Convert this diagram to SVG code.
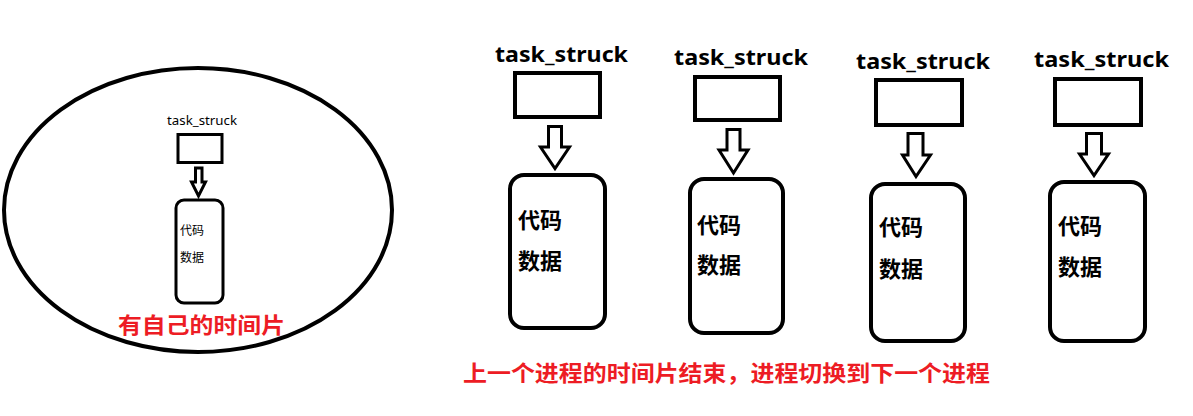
<svg xmlns="http://www.w3.org/2000/svg" width="1193" height="416" viewBox="0 0 1193 416">
<style>
.bg{fill:#fff}
.ln{fill:#fff;stroke:#000;stroke-width:4}
.ln3{fill:#fff;stroke:#000;stroke-width:3}
.arr{fill:#fff;stroke:#000;stroke-width:3;stroke-linejoin:miter}
.tsb{font-family:"Noto Sans","Liberation Sans",sans-serif;font-weight:bold;font-size:22px;fill:#000}
.tss{font-family:"Noto Sans","Liberation Sans",sans-serif;font-size:13px;fill:#000}
.cn{font-family:"Noto Sans CJK SC",sans-serif;font-weight:bold;font-size:22px;fill:#000}
.cns{font-family:"Noto Sans CJK SC",sans-serif;font-size:12px;fill:#000}
.red{font-family:"Noto Sans CJK SC",sans-serif;font-weight:bold;font-size:22px;fill:#ED1C24}
</style>
<rect class="bg" x="0" y="0" width="1193" height="416"/>

<g id="process-left">
  <ellipse cx="198" cy="210" rx="194" ry="142" fill="none" stroke="#000" stroke-width="4"/>
  <text class="tss" x="167" y="125" textLength="70" lengthAdjust="spacingAndGlyphs">task_struck</text>
  <rect class="ln3" x="178" y="134.5" width="44" height="28"/>
  <rect class="ln3" x="176" y="200" width="47" height="103" rx="8"/>
  <text class="cns" x="180" y="235">代码</text>
  <text class="cns" x="180" y="262">数据</text>
  <text class="red" x="118" y="333" textLength="167" lengthAdjust="spacingAndGlyphs">有自己的时间片</text>
</g>

<g id="process-1">
  <text class="tsb" x="495" y="62" textLength="133" lengthAdjust="spacingAndGlyphs">task_struck</text>
  <rect class="ln" x="515" y="73" width="85" height="44"/>
  <rect class="ln" x="510" y="175" width="95" height="153" rx="14"/>
  <text class="cn" x="518" y="228">代码</text>
  <text class="cn" x="518" y="269">数据</text>
</g>

<g id="process-2">
  <text class="tsb" x="674" y="65" textLength="134" lengthAdjust="spacingAndGlyphs">task_struck</text>
  <rect class="ln" x="695" y="77" width="85" height="43"/>
  <rect class="ln" x="690" y="179" width="93" height="154" rx="14"/>
  <text class="cn" x="697" y="233">代码</text>
  <text class="cn" x="697" y="273">数据</text>
</g>

<g id="process-3">
  <text class="tsb" x="856" y="69" textLength="134" lengthAdjust="spacingAndGlyphs">task_struck</text>
  <rect class="ln" x="876" y="80" width="86" height="45"/>
  <rect class="ln" x="871" y="184" width="94" height="157" rx="14"/>
  <text class="cn" x="879" y="235">代码</text>
  <text class="cn" x="879" y="277">数据</text>
</g>

<g id="process-4">
  <text class="tsb" x="1034" y="67" textLength="135" lengthAdjust="spacingAndGlyphs">task_struck</text>
  <rect class="ln" x="1055" y="79" width="86" height="46"/>
  <rect class="ln" x="1050" y="182" width="95" height="159" rx="14"/>
  <text class="cn" x="1058" y="234">代码</text>
  <text class="cn" x="1058" y="275">数据</text>
</g>

<g id="caption">
  <text class="red" x="463" y="381" textLength="527" lengthAdjust="spacingAndGlyphs">上一个进程的时间片结束，进程切换到下一个进程</text>
</g>

<g id="connectors">
  <path class="arr" stroke-width="2" d="M195.5,168 H202 V182 H205.5 L198.5,196 L191.5,182 H195.5 Z"/>
  <path class="arr" d="M548.5,126.5 H561.5 V147 H569.5 L555,168.5 L540.5,147 H548.5 Z"/>
  <path class="arr" d="M727,129.5 H740 V150 H748 L733.5,173 L719,150 H727 Z"/>
  <path class="arr" d="M908,133.5 H923 V155 H930.5 L916,176.5 L902.5,155 H908 Z"/>
  <path class="arr" d="M1086.5,133.5 H1101.5 V154 H1108.5 L1094,175.5 L1079.5,154 H1086.5 Z"/>
</g>
</svg>
